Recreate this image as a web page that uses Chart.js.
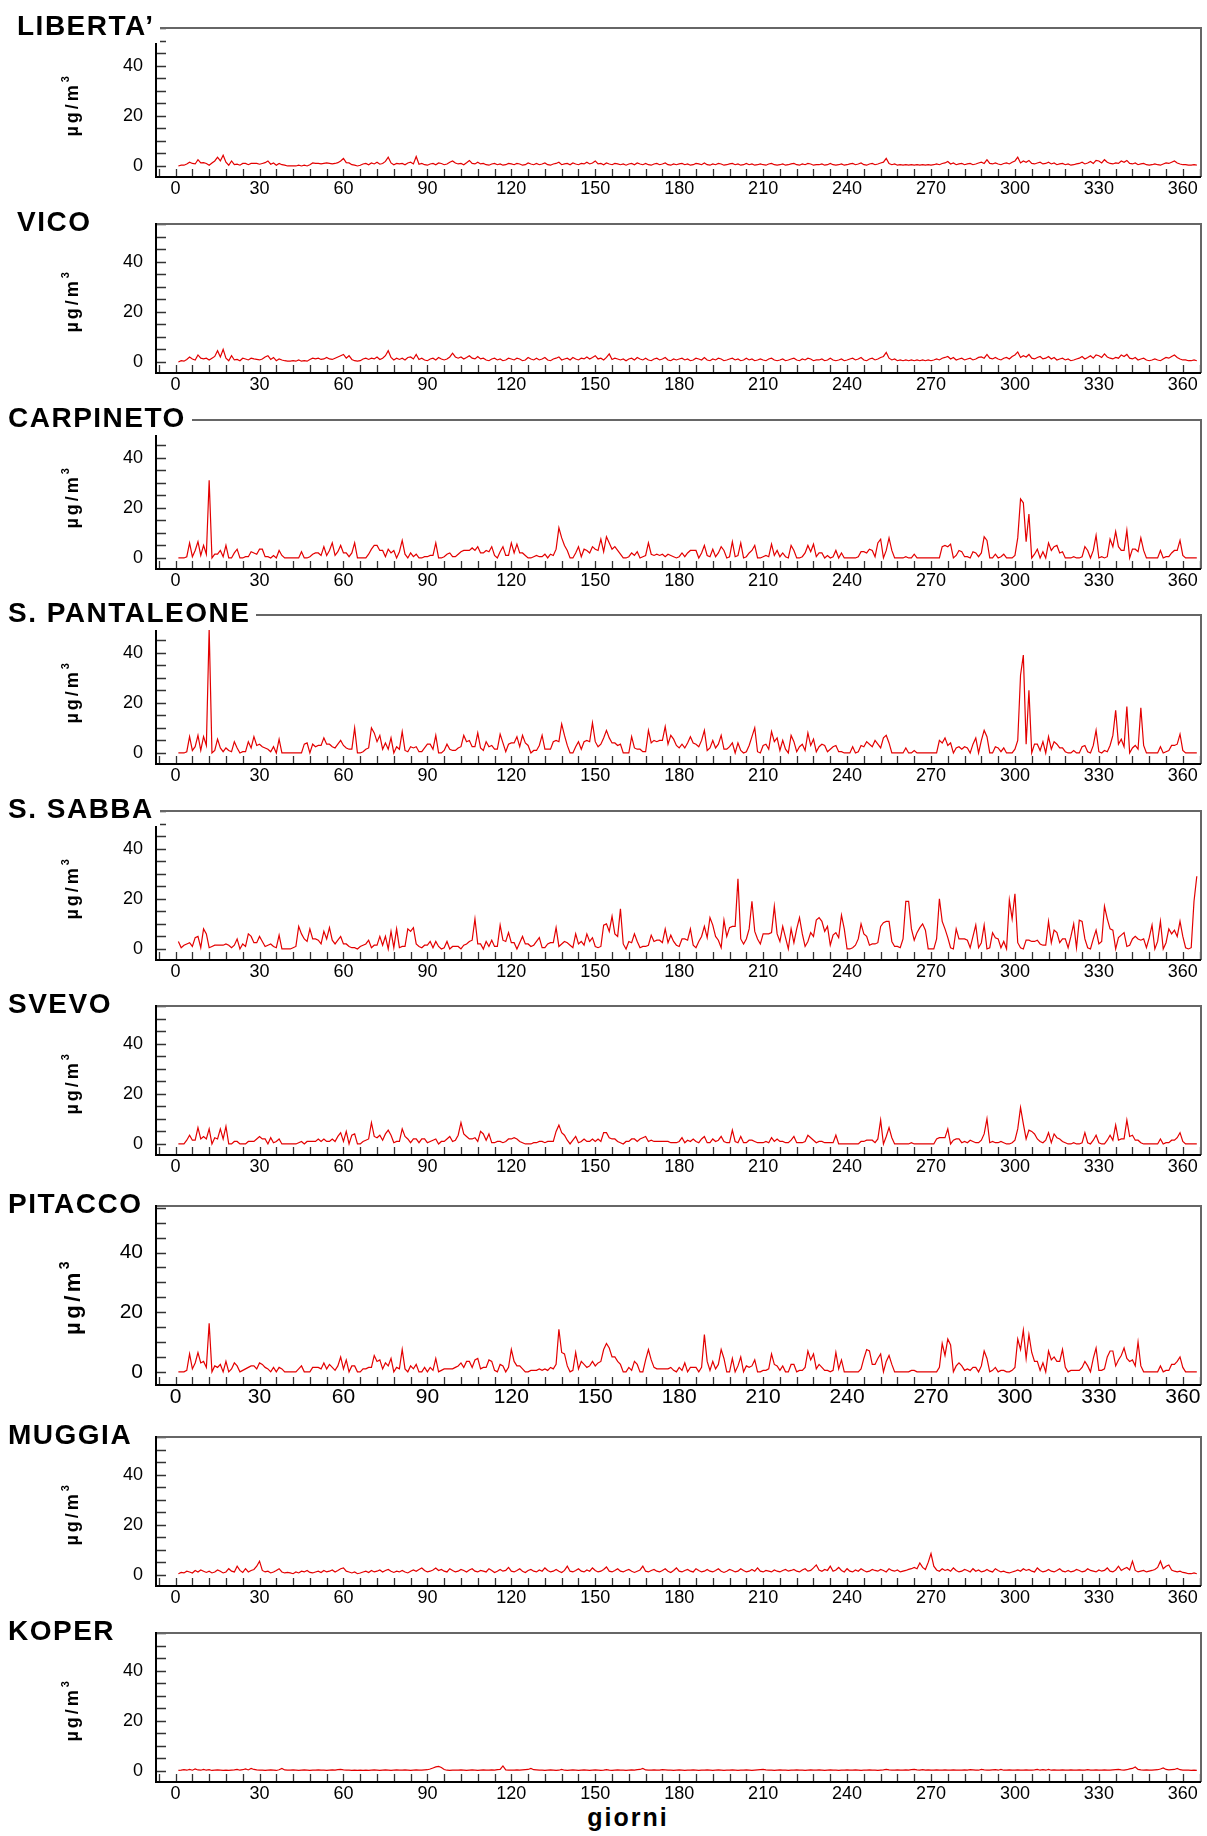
<!DOCTYPE html>
<html>
<head>
<meta charset="utf-8">
<script src="https://cdn.jsdelivr.net/npm/chart.js@4.4.1/dist/chart.umd.min.js"></script>
<style>
  body { margin: 0; background: #fff; }
  #page { position: relative; width: 1207px; height: 1836px; overflow: hidden; background: #fff;
          font-family: "Liberation Sans", Arial, sans-serif; }
  .title { position: absolute; font-weight: bold; font-size: 28px; line-height: 28px; letter-spacing: 1.5px;
           background: #fff; padding: 0 6px 3px 0; z-index: 2; white-space: nowrap; color: #000; }
  canvas { position: absolute; left: 0; }
  #xlabel { position: absolute; left: 528px; width: 200px; top: 1805px; text-align: center;
            font-weight: bold; font-size: 25px; line-height: 25px; letter-spacing: 2px; color: #000; }
</style>
</head>
<body>
<div id="page"><div id="xlabel">giorni</div></div>
<script>
// tick labels
const xTickLabels = [0, 30, 60, 90, 120, 150, 180, 210, 240, 270, 300, 330, 360]
const yTickLabels = [0, 20, 40]

// daily concentrations, day 1..365 (µg/m3)
const liberta = [
  0,0.3,0.3,0.8,1.5,1,0.8,2.5,1.2,1.3, 1,0.3,1.2,2,3.5,2,4.3,1.5,0.3,2,
  0.5,0.7,0.3,1,1,0.5,1,1,1,0.7, 1,1.3,2,0.7,1.2,0.3,1,0.5,0.3,0,
  0,0,0,0.3,0,0.3,0,0.5,1.2,1, 1,0.8,1,1.2,1,0.8,1,1.3,2,3,
  1.3,1.2,0.5,0.3,0,0.3,0.8,1,0.5,1.2, 0.8,1.5,0.7,1,1.8,3.5,1.2,0.5,1,0.8,
  1,0.5,1.2,1.5,0.8,3.8,0.7,1,0.5,0.3, 0.8,1,0.5,1.2,1,0.5,0.8,1.5,2,1.2,
  0.8,1,0.5,1.3,2.2,1,0.8,1.5,0.8,1, 0.5,0.3,0.8,1,0.5,0.8,0.3,0.5,1,0.8,
  0.5,1,0.8,0.3,0.5,1.2,0.8,0.5,1,0.5, 0.8,1.2,0.5,0.3,0.8,1,1.5,0.5,0.8,1,
  0.5,1.2,0.8,0.5,1,0.8,1.5,0.8,1.2,2, 0.8,1,0.5,1.2,0.8,0.5,1,0.8,0.5,0.8,
  0.3,0.8,1,0.5,1.2,0.8,0.5,1,0.5,0.3, 0.8,1,0.5,0.8,1.2,0.5,0.3,0.8,0.5,0.8,
  1,0.5,0.8,0.3,0.5,1,0.8,0.5,1.2,0.5, 0.3,0.8,0.5,1,0.8,0.3,0.5,0.8,1,0.5,
  0.8,0.3,0.5,1,0.5,0.8,0.3,0.5,0.8,0.5, 0.3,0.8,1,0.5,0.3,0.5,0.8,0.3,0.5,0.8,
  1,0.5,0.3,0.8,0.5,1,0.8,0.3,0.5,0.5, 0.8,0.3,0.5,1,0.5,0.3,0.5,0.8,0.3,0.5,
  0.8,1,0.5,0.8,1.2,0.5,0.3,0.8,1,0.5, 0.8,1.2,1.5,3,1,0.5,0.8,0.3,0.5,0.3,
  0.5,0.3,0.5,0.3,0.5,0.3,0.5,0.3,0.5,0.3, 0.5,0.8,0.5,1,1.2,1.8,0.8,1.2,0.5,0.8,
  1,0.5,0.8,1,0.5,0.8,1.2,1.5,1,2.5, 1,0.8,1.2,0.8,0.5,1,1.2,0.8,1.5,2,
  3.5,1.2,2,1.5,2.2,1,0.8,1.2,1.5,0.8, 1,1.5,0.8,1.2,0.5,0.8,1,0.5,0.8,0.3,
  0.5,0.8,1,1.5,0.8,1.2,1.8,1,2.2,2, 1.2,2.5,1.5,1,0.8,1.2,1,2,1.5,2.2,
  1,0.8,1.2,0.5,0.8,1,0.5,0.3,0.5,0.8, 0.5,0.3,0.8,1.2,1,1.5,2,1.2,0.8,0.5,
  0.5,0.3,0.3,0.5,0.3
]

const vico = [
  0,0.5,0.3,1,2,1.2,0.8,2.8,1.5,1.2, 1.5,0.8,1.5,2.2,4.5,2,5,1.5,0.5,2.5,
  0.8,1,0.5,1.5,1.2,0.8,1.5,1.2,1,0.8, 1.2,2,2.5,1,1.8,0.5,1.2,0.8,0.5,0.3,
  0.3,0.5,0.3,0.8,0.3,0.5,0.3,1,1.5,1.2, 1.5,1,1.2,1.8,1.2,1,1.5,2,2.5,3,
  1.5,2.5,1,0.5,0.3,0.5,1.2,1.5,1,1.5, 1.2,2,1,1.5,2.5,4.5,1.8,0.8,1.5,1,
  1.5,0.8,1.8,2,1.2,3,1,1.5,0.8,0.5, 1.2,1.5,0.8,1.8,1.2,0.8,1.2,2,3.5,2,
  1.5,2,1.2,1.8,2.5,1.5,1.2,2.2,1.2,1.5, 0.8,0.5,1.2,1.5,0.8,1.2,0.5,0.8,1.5,1.2,
  0.8,1.5,1.2,0.5,0.8,1.8,1.2,0.8,1.5,0.8, 1.2,1.8,0.8,0.5,1.2,1.5,2,0.8,1.2,1.5,
  0.8,1.8,1.2,0.8,1.5,1.2,2,1.2,1.8,2.5, 1.2,1.5,0.8,1.8,3.2,1,1.5,1.2,0.8,1.2,
  0.5,1.2,1.5,0.8,1.8,1.2,0.8,1.5,0.8,0.5, 1.2,1.5,0.8,1.2,1.8,0.8,0.5,1.2,0.8,1.2,
  1.5,0.8,1.2,0.5,0.8,1.5,1.2,0.8,1.8,0.8, 0.5,1.2,0.8,1.5,1.2,0.5,0.8,1.2,1.5,0.8,
  1.2,0.5,0.8,1.5,0.8,1.2,0.5,0.8,1.2,0.8, 0.5,1.2,1.5,0.8,0.5,0.8,1.2,0.5,0.8,1.2,
  1.5,0.8,0.5,1.2,0.8,1.5,1.2,0.5,0.8,0.8, 1.2,0.5,0.8,1.5,0.8,0.5,0.8,1.2,0.5,0.8,
  1.2,1.5,0.8,1.2,1.8,0.8,0.5,1.2,1.5,0.8, 1.2,1.8,2.2,3.8,1.5,0.8,1.2,0.5,0.8,0.5,
  0.8,0.5,0.8,0.5,0.8,0.5,0.8,0.5,0.8,0.5, 0.8,1.2,0.8,1.5,1.8,2.2,1.2,1.8,0.8,1.2,
  1.5,0.8,1.2,1.5,0.8,1.2,1.8,2,1.5,3, 1.5,1.2,1.8,1.2,0.8,1.5,1.8,1.2,2.2,2.8,
  4,1.8,2.5,2,3,1.5,1.2,1.8,2.2,1.2, 1.5,2.2,1.2,1.8,0.8,1.2,1.5,0.8,1.2,0.5,
  0.8,1.2,1.5,2.2,1.2,1.8,2.5,1.5,2.8,2.5, 1.8,3.2,2,1.5,1.2,1.8,1.5,2.8,2.2,3,
  1.5,1.2,1.8,0.8,1.2,1.5,0.8,0.5,0.8,1.2, 0.8,0.5,1.2,1.8,1.5,2.2,2.8,1.8,1.2,0.8,
  0.8,0.5,0.5,0.8,0.5
]

const carpineto = [
  0,0,0,0.5,6,0.5,3,6.5,1,5, 1.5,31,0,1.5,1.5,3,0.5,5,0,0,
  2,3.5,0,0,0.5,0.5,2.5,2,1.5,3.5, 3.5,0.5,0.5,0,1,0,3,1,0,0,
  0,0,0,0,2.5,0,0,0.5,1.5,2, 2,1,4.5,1,3,6,1,2.5,5,2,
  2,0.5,2,6,0,0,0,0,1.5,3.5, 5,5,3,3,0.5,3.5,2,3,0,2.5,
  7,1.5,0,2,0.5,1.5,0,0,0.5,0.5, 1,1,6,0,0,0.5,1.5,2,0.5,0.5,
  1.5,2.5,3,3,3,4,3,4.5,2,2, 3,2.5,4.5,1,0,2.5,4.5,1,1,6,
  2,5.5,2,2,1,0,0,0.5,1,0.5, 0.5,1.5,0,1.5,1,3.5,12,8,5,3,
  0,0,2,4.5,0.5,3.5,3,2,4.5,3.5, 3,7.5,2.5,8.5,6,3.5,4.5,3,1.5,0,
  0,0.5,2,1,2.5,0,0.5,1,6,1.5, 1,1.5,1,1.5,0.5,1.5,1,0.5,0,
  0.5,2,0.5,2,3,3,3,0,2,5, 1,0.5,3.5,0.5,2,4.5,3,0,0.5,6.5,
  0.5,1,6,0,0.5,2,3,5,0,0, 0.5,1,0.5,5.5,1,3,0.5,2,0.5,0,
  5,3,0,0,0.5,2,5,2.5,5.5,0.5, 2,2,0,1,0,0.5,3,0,2,0,
  0,0,0,0,0.5,2.5,2.5,2,3.5,3, 0.5,6,7.5,0,3,8,3,0,0,0,
  0,0.5,0,0,1.5,0,0,0,0,0, 0,0,0,0,4.5,5,4.5,5.5,0,1,
  3,2.5,0.5,0.5,0,2.5,2,0.5,2,8.5, 7,0,0,1.5,0,0.5,1.5,0,0,0,
  1,8,23.5,22,6.5,17.5,0,1.5,3.5,0, 2.5,0,6,3,4.5,5,2,2.5,0,0,
  0,0.5,0,0,0.5,4.5,3,0,3,9, 0,0.5,0,0.5,7.5,4.5,10.5,4.5,3,3,
  11,0,3.5,3.5,2.5,8,3,0,0,0, 0,0,3,0,0.5,0.5,2,3,3,7,
  1,0,0,0,0,0
]

const sPantaleone = [
  0,0,0,0.5,6.5,1,2.5,7,1,6.5, 3,49.5,0,1,5.5,2,0.5,2,1,0.5,
  4.5,2,0,0.5,0.5,4.5,2,6.5,3,3.5, 2.5,2,1.5,0.5,2.5,0,5.5,0,0,0,
  0,0,0,0,0,3.5,4,0,3.5,2.5, 3,3,6,3.5,3.5,2.5,2,3.5,5,3,
  2,1.5,1.5,10,0,0,0.5,1.5,2,10, 8,4.5,7,1.5,4,1.5,6,0,2.5,1.5,
  8.5,1,0.5,2.5,2,2.5,0.5,0.5,2,3.5, 3.5,1.5,7,0,0,1,3.5,1.5,1,1,
  2,2.5,7,4.5,5,2.5,2.5,8,2,1, 4.5,2.5,3,1.5,1.5,7.5,4,0.5,3.5,4,
  4,6.5,2.5,7,4,3,0,1,1,3, 7,1.5,1.5,1.5,4.5,5,4.5,11.5,7,3,
  0,0,2.5,4.5,1.5,4.5,5,4.5,12,4.5, 2.5,3.5,6,9,6,4,4,3,3.5,0,
  0,0,6.5,2,1.5,1.5,0.5,0.5,9,4, 5,4.5,5,5,10.5,3.5,7,5.5,3,
  2,3.5,2,4,6.5,4,3.5,2.5,5,9, 1,2,5,2,3.5,7,1.5,1.5,2.5,4,
  0,4,1,0,0.5,3,6.5,10,0.5,0, 3,3.5,1.5,8.5,4.5,6,1,5,1.5,0,
  7,4.5,0.5,2.5,3.5,1,8,3,5.5,0.5, 2.5,3.5,3,0.5,1.5,2.5,3,0.5,0.5,0,
  0,0,2.5,0,0.5,3,2.5,4.5,3.5,2.5, 5,3.5,2,6,7,4,0,0,0,0,
  0,2,0,0,1,0,0,0,0,0, 0,0,0,5,4,6,3,4,0,2,
  2.5,1.5,2.5,2,0,3.5,6,0,5,9, 6.5,0,0,2.5,2,0.5,2,0,0,0,
  1.5,5,31,39,3.5,25,0,3.5,3.5,1, 4.5,0,6.5,1.5,4.5,3.5,2,2,0.5,0,
  0,1,0,0,2.5,3,0.5,0,3,9, 0.5,0,1,0.5,3,7,17,3.5,5.5,2.5,
  18.5,0,2,3,1.5,18,3,0,0,0, 0,0,2.5,0,0.5,1,3,3,3.5,7.5,
  1,0,0,0,0,0
]

const sSabba = [
  3,0.5,1.5,2,2.5,1,4.5,5,0.5,8, 6,0.5,1,1.5,1.5,1.5,1.5,2,1.5,0.5,
  1.5,4,0,2,1,6,5,2.5,2.5,5, 3,1,1.5,2,1,0.5,5.5,0,0,0,
  0,0.5,1,9,6,4,3,8,4,4, 3.5,2,7,4,8.5,3.5,2,3.5,5,2,
  2,1,0.5,0.5,0,1,1.5,2,3.5,0.5, 1.5,1.5,5,1.5,5,0,7,0.5,8,0.5,
  1,1,8,7,8.5,2,1,0.5,1.5,1.5, 3,0.5,3,1,0,0.5,3,0,1,1,
  1,0,1.5,2,3,3.5,12,2,2,0, 3,1,3.5,1,1,9.5,3.5,3,6.5,2.5,
  2.5,0,2.5,5,2,2,1,1.5,3,4.5, 0.5,0.5,2,2.5,2.5,8.5,1,2,3,2.5,
  1.5,0.5,6,2,3,1.5,6,3,4.5,1, 0.5,1,9.5,10,7,13,6,5,16,2,
  0,3,2.5,6,3,0.5,1,1,1.5,5.5, 3,3.5,3.5,2.5,8,2.5,5.5,3,1.5,
  1,4,4,3.5,8,1.5,0.5,3,5,9, 4.5,12.5,9.5,5,3.5,0.5,11.5,5,8.5,9,
  9,28,4,2,4,8,19,7,4,2, 6,6,6,6.5,17,6,3,9,4.5,0,
  8,2.5,8,12.5,6,1,3,6.5,5,11.5, 12.5,11,7,9,1.5,5.5,6.5,4.5,13.5,8,
  0,0,0.5,1.5,4,10,6,5,1.5,2, 2,2.5,9,10.5,11,11,3,1,1,0.5,
  4,19,19,8,3.5,6.5,8.5,10,7.5,0, 0,0,4,20,11,8,4.5,0.5,0,8,
  4,4,4,3.5,0.5,5,9.5,0.5,2.5,9.5, 0,0.5,6.5,4.5,4,0.5,3,0,19.5,12,
  22,2.5,0.5,0,3.5,3.5,3,3,3.5,2, 1.5,1.5,11,2.5,7.5,6.5,2.5,4,4,0.5,
  5,10,0.5,11.5,11,4,0.5,0,4,7.5, 2,3,17,12,8,7.5,0,4.5,5.5,6.5,
  1,1.5,4,5,4,3.5,4,0.5,4.5,9.5, 0,3,11,0,2.5,8,6,7.5,5,11,
  5,0.5,0,0.5,19,29
]

const svevo = [
  0,0,0,1.5,3.5,1.5,1.5,6.5,2,3, 2,6,0,2.5,2,6,2,7,0,0,
  1,1,0,0,0,1,1,1,2,3, 2,2,0,2.5,0.5,1,2,0,0,0,
  0,0,0,0.5,1,0,1,1,1,1, 2,1,2,1,1,2,1,3,4.5,1,
  5,0,3.5,4,0,0,1,1.5,2,8.5, 3,2.5,3.5,1.5,4,5.5,3.5,0.5,1,1,
  6,3,2,0.5,2,2,0.5,2,2,0.5, 1,1.5,2,0,1,1,2,3,1,1.5,
  3.5,8.5,4,3,2,2,2.5,1,5,4, 1.5,4,0.5,0.5,1,1,0.5,1,2,2,
  2.5,2,1,0.5,0,0,0,0.5,0.5,1, 1,0.5,1,1,1,5,7.5,4.5,3.5,1.5,
  0,1.5,3,0.5,1,2,1,1,2,1, 2,1,4.5,4.5,2.5,2,2,1,0.5,0,
  1,1,2,2,1,2,2.5,3,1,1.5, 1,1,1,1,1,1,0.5,0.5,0.5,
  1,2.5,0.5,1.5,1,2,1,0.5,2,3, 0.5,0.5,2,1,1.5,3,1,0.5,0.5,5.5,
  1,0.5,3,0.5,0.5,1.5,1.5,1,0.5,0.5, 0.5,1,0.5,2.5,1,2,1,1,0.5,0.5,
  1.5,3,0.5,0.5,0.5,1,3.5,2.5,1.5,0.5, 1,1,0.5,0.5,0.5,0.5,3.5,0,0,0,
  0,0,0,0,0,1,1,1.5,1.5,1.5, 0.5,2,9.5,0,3,6.5,2.5,0,0,0,
  0,0,0,0.5,0,0,0,0,0,0, 0,0,2,2.5,2.5,2.5,6,0,1.5,2,
  2,0.5,1,0.5,1.5,1,0.5,0.5,1.5,4, 10,0.5,1,0.5,0.5,1,0.5,0,0,0.5,
  1.5,6,14.5,8,2,5.5,5,4,2,1, 0.5,1.5,4.5,0.5,4,2.5,2,1,0.5,0,
  0,0.5,0,0,0.5,4.5,0.5,0,1.5,3.5, 0.5,0,0,1.5,3.5,1.5,7.5,1.5,2,2,
  9.5,3,3.5,1.5,1.5,0.5,0,0,0,0, 0,0,2,0,0.5,0.5,1.5,1.5,2.5,4.5,
  1,0,0,0,0,0
]

const pitacco = [
  0,0,0,0.5,6,1,3,6.5,3,3.5, 1.5,16.3,0,2,1.5,2.5,0,3.5,0,1,
  3,2,0,0.5,1,1.5,2,2,1,3, 2.5,1.5,1,0,1.5,0,1.5,1,0,0,
  0,0,0,1,2,0,0,0,1.5,1.5, 1.5,1,3,1,2.5,1.5,0.5,2,5,1,
  4,0,2,2,0,0,1,1,1.5,1.5, 5.5,3.5,4,1,3,2,4.5,0,1.5,1,
  7.5,1,0,2,1,2.5,0,0,1.5,0, 1.5,0.5,4.5,0,0.5,1,1,1,1,1.5,
  2,3,1.5,3.5,3.5,1.5,4,4.5,1,1.5, 1.5,4,3.5,0.5,0,2.5,2,0,1.5,7.5,
  3.5,2,2,1,0,0,0.5,0.5,0.5,1, 0.5,1,0.5,1.5,1,2.5,14.3,6.5,6,2,
  0,0.5,6.5,1,3.5,2.5,1.5,2,3.5,2, 3,3.5,7.5,9.5,8,5,5,3.5,2.5,0,
  0,1.5,0.5,3.5,2.5,0,0,4,7.5,4, 1.5,1,1,1,1,1,1.5,0.5,0,
  1.5,0.5,3,0,1.5,1.5,1.5,0,1.5,12.5, 3.5,0.5,3.5,1,2.5,7.5,4.5,0,0,4.5,
  0,2,5,0,2,1.5,2,4,0,0, 0.5,0.5,1,6,2.5,2,0.5,2,0,0,
  2.5,2.5,0,0.5,0.5,1.5,7,4,6,1, 2.5,1.5,0.5,0.5,0,0.5,6.5,1,4,0,
  0,0,0,0,0,1,4.5,7.5,7,2.5, 2.5,4.5,6,0,3.5,5.5,2.5,0,0,0,
  0,0,0,0.5,0.5,0,0,0,0,0, 0,0,0,1.5,9.5,5.5,11,9,0,2,
  3,2,0.5,1,0.5,1.5,1.5,0,2,7, 4.5,0,0.5,1.5,0,0.5,0.5,0,0,0.5,
  1.5,11,7.5,14,4.5,12.5,6.5,3.5,3.5,0.5, 3,0,7,4,5,3.5,3.5,7.5,1.5,0,
  0.5,0.5,0.5,0.5,1.5,3.5,2,0,4.5,8, 0.5,0.5,1,5,7,7,2,4,5.5,8,
  4.5,3.5,4,2,10,2,0,0,0,0, 0,0,2,0,0.5,0.5,2.5,2.5,3.5,5,
  1.5,0,0,0,0,0
]

const muggia = [
  0.5,1,0.8,1.5,1.2,0.8,1.8,1.2,2,1.5, 1,1.5,0.8,1.2,2,1.5,0.8,1.2,2.5,1.5,
  1.2,3.5,1.8,1,2.5,1.2,1.8,2.2,3.5,5.5, 1.8,1.2,1.5,0.8,1.2,1.8,2.5,1.2,0.8,1,
  0.8,0.5,1.2,0.8,1.5,1.2,1.8,1,0.8,1.2, 1.5,1,1.8,1.2,1.5,2,1.2,1.8,2.5,2.8,
  1.5,1.2,0.8,1.2,0.5,0.8,1.2,1.5,1,1.8, 1.2,1.5,2,1.2,1.8,2.2,1.5,1,1.5,1.2,
  1.8,1.2,0.8,1.5,2,1.5,2.2,2.8,1.8,1.2, 1.5,2,2.8,1.8,2.2,1.5,1.2,2.5,1.8,1.2,
  1.5,2.2,1.8,1.2,2,2.5,1.5,1.2,1.8,1.5, 1.2,2.5,1.8,1,1.5,2.2,1.5,1.8,3,1.5,
  1.2,1.8,2.5,1.5,1,1.8,2.2,1.5,1.2,2, 1.5,2.8,1.8,1.2,1.5,2.2,1.5,1,1.8,3.5,
  1.5,1.2,1.8,2.5,1.5,1.2,2,1.5,2.8,1.8, 1.2,1.5,2.2,3.2,1.5,1.2,1.8,2.5,1.5,1.2,
  1.8,2.2,1.5,1,1.5,2,3.5,1.5,1.2,1.8, 2.2,1.5,1.2,1.8,2.5,1.5,1,1.8,2.8,1.5,
  1.2,1.8,2.2,1.5,1.2,2.5,1.8,1.2,1.5,2.2, 1.5,1.2,1.8,2.5,1.5,1,1.5,2.2,1.8,1.2,
  1.5,2.5,1.8,1.2,1.5,2.2,1.5,2.8,1.5,1.2, 1.8,1.5,1.2,2,1.5,1.2,1.8,2.2,1.5,1.8,
  2.2,1.5,1.2,2,2.5,1.5,1.8,2.8,4,2, 1.5,2.2,1.8,3.5,1.5,2,3,1.8,1.2,2.5,
  1.5,1.2,2,1.5,2.5,1.8,1.2,1.5,2.2,1.8, 1.5,2.2,1.8,1.2,2.5,1.8,1.5,2,1.2,1.5,
  1.8,2.2,2.5,3,2.5,4.8,3,2.2,5,8.5, 3.5,2,1.5,2.5,1.8,2.2,1.5,2.8,1.8,1.2,
  1.5,2.2,1.8,1.2,2.5,1.5,2,1.2,1.5,2.2, 1.5,1.2,2.5,1.8,1.2,1.5,1,0.8,1.2,1.5,
  2,1.5,2.5,1.8,2.2,1.5,1.2,2.8,1.8,1.2, 1.5,2.2,1.5,1.2,1.8,2.5,1.5,1.2,1.8,1.2,
  1.5,2.2,1.8,1.2,1.5,2.5,1.8,1.5,1.2,2, 1.5,1.8,2.8,1.5,1.2,2,3.5,1.8,2.5,3,
  2,5.5,1.8,1.2,1.5,1.8,1.2,1.5,1.8,2.2, 3,5.5,2.5,3.5,4,2,1.5,1.2,1.5,1,
  0.8,0.5,0.5,0.8,0.5
]

const koper = [
  0.2,0.3,0.5,0.3,0.6,0.3,0.8,0.4,0.3,0.6, 0.3,0.5,0.2,0.3,0.4,0.3,0.2,0.3,0.2,0.3,
  0.4,0.6,0.3,0.5,0.8,0.4,1,0.6,0.4,0.3, 0.3,0.2,0.3,0.4,0.3,0.2,0.5,1,0.4,0.3,
  0.3,0.4,0.3,0.2,0.3,0.4,0.3,0.2,0.3,0.3, 0.4,0.3,0.3,0.2,0.3,0.4,0.3,0.5,0.6,0.4,
  0.3,0.3,0.2,0.3,0.2,0.3,0.2,0.3,0.2,0.3, 0.4,0.3,0.2,0.3,0.4,0.3,0.2,0.3,0.4,0.3,
  0.3,0.4,0.3,0.2,0.3,0.4,0.3,0.3,0.4,0.5, 0.8,1.2,1.6,1.8,1.4,0.6,0.3,0.2,0.3,0.3,
  0.3,0.4,0.3,0.2,0.3,0.4,0.3,0.2,0.3,0.4, 0.3,0.3,0.4,0.3,0.5,0.6,2,0.4,0.3,0.3,
  0.3,0.4,0.3,0.4,0.5,0.6,1,0.5,0.4,0.3, 0.3,0.2,0.3,0.4,0.3,0.2,0.3,0.6,0.3,0.2,
  0.3,0.4,0.3,0.2,0.3,0.4,0.3,0.2,0.3,0.4, 0.3,0.2,0.3,0.5,0.3,0.2,0.3,0.4,0.3,0.3,
  0.2,0.3,0.4,0.3,0.5,0.6,1,0.4,0.3,0.3, 0.4,0.3,0.3,0.5,0.4,0.3,0.3,0.2,0.3,0.4,
  0.3,0.2,0.3,0.3,0.4,0.3,0.2,0.3,0.3,0.4, 0.3,0.2,0.3,0.4,0.3,0.2,0.3,0.3,0.4,0.3,
  0.2,0.3,0.3,0.4,0.3,0.2,0.3,0.4,0.5,0.6, 0.4,0.3,0.3,0.2,0.3,0.4,0.3,0.3,0.2,0.3,
  0.3,0.4,0.3,0.3,0.2,0.3,0.4,0.3,0.3,0.4, 0.3,0.2,0.3,0.4,0.3,0.3,0.2,0.3,0.3,0.4,
  0.3,0.3,0.4,0.3,0.2,0.3,0.3,0.4,0.3,0.3, 0.2,0.3,0.4,0.6,0.4,0.3,0.3,0.4,0.3,0.3,
  0.4,0.3,0.5,0.6,0.4,0.3,0.5,0.3,0.4,0.3, 0.3,0.4,0.3,0.3,0.4,0.3,0.3,0.4,0.3,0.3,
  0.3,0.4,0.3,0.5,0.4,0.3,0.3,0.6,0.4,0.3, 0.3,0.4,0.5,0.3,0.6,0.3,0.3,0.4,0.3,0.3,
  0.4,0.3,0.3,0.4,0.3,0.3,0.4,0.6,0.3,0.5, 0.3,0.6,0.3,0.4,0.3,0.3,0.4,0.3,0.3,0.4,
  0.3,0.3,0.4,0.3,0.3,0.5,0.3,0.3,0.4,0.3, 0.3,0.4,0.3,0.3,0.4,0.5,0.6,0.4,0.3,0.5,
  0.8,1,1.6,0.6,0.4,0.3,0.4,0.3,0.3,0.4, 0.5,0.8,1.2,0.6,0.4,0.5,0.6,1,0.5,0.3,
  0.3,0.3,0.2,0.3,0.2
]

const FONT = '"Liberation Sans", Arial, sans-serif'

// one panel per station: top = pixel row of the frame's upper edge
const panels = [
  { name: 'LIBERTA’', values: liberta, top: 28, titleX: 17 },
  { name: 'VICO', values: vico, top: 224, titleX: 17 },
  { name: 'CARPINETO', values: carpineto, top: 420, titleX: 8 },
  { name: 'S. PANTALEONE', values: sPantaleone, top: 615, titleX: 8 },
  { name: 'S. SABBA', values: sSabba, top: 811, titleX: 8 },
  { name: 'SVEVO', values: svevo, top: 1006, titleX: 8 },
  { name: 'PITACCO', values: pitacco, top: 1206, titleX: 8, big: true },
  { name: 'MUGGIA', values: muggia, top: 1437, titleX: 8 },
  { name: 'KOPER', values: koper, top: 1633, titleX: 8 }
]

// frame, inner ticks and the unit label
const framePlugin = {
    id: 'frame',
    afterDatasetsDraw(chart, args, opts) {
        const { ctx, chartArea: a, scales: { x, y } } = chart
        ctx.save()
        ctx.strokeStyle = '#333'
        ctx.lineWidth = 1.3
        ctx.beginPath()
        for (let v = -6; v <= x.max; v += 6) {
            const px = Math.round(x.getPixelForValue(v)) + 0.5
            ctx.moveTo(px, a.bottom)
            ctx.lineTo(px, a.bottom - 8)
        }
        for (let v = 0; v <= y.max; v += 5) {
            const py = Math.round(y.getPixelForValue(v)) + 0.5
            ctx.moveTo(a.left, py)
            ctx.lineTo(a.left + 10, py)
        }
        ctx.stroke()

        // top and right edges (grey)
        ctx.strokeStyle = '#666'
        ctx.lineWidth = 2
        ctx.beginPath()
        ctx.moveTo(a.left, a.top)
        ctx.lineTo(a.right, a.top)
        ctx.lineTo(a.right, a.bottom)
        ctx.stroke()

        // axes (black)
        ctx.strokeStyle = '#000'
        ctx.beginPath()
        ctx.moveTo(a.left, a.top - 1)
        ctx.lineTo(a.left, a.bottom)
        ctx.lineTo(a.right, a.bottom)
        ctx.stroke()

        // µg/m3 label
        const cy = y.getPixelForValue(opts.unitAt)
        ctx.translate(opts.unitX, cy)
        ctx.rotate(-Math.PI / 2)
        ctx.fillStyle = '#000'
        ctx.letterSpacing = opts.spacing + 'px'
        ctx.font = `bold ${opts.size}px ${FONT}`
        const wMain = ctx.measureText('µg/m').width
        ctx.font = `bold ${Math.round(opts.size * 0.62)}px ${FONT}`
        const wSup = ctx.measureText('3').width
        const x0 = -(wMain + wSup) / 2
        ctx.textAlign = 'left'
        ctx.textBaseline = 'alphabetic'
        ctx.font = `bold ${opts.size}px ${FONT}`
        ctx.fillText('µg/m', x0, 0)
        ctx.font = `bold ${Math.round(opts.size * 0.62)}px ${FONT}`
        ctx.fillText('3', x0 + wMain, -opts.size * 0.5)
        ctx.restore()
    }
}

const page = document.getElementById('page')

panels.forEach(p => {
    const height = p.big ? 179 : 149
    const yMax = p.big ? 55.6 : 55
    const tickSize = p.big ? 21 : 18
    const padTop = 30
    const axisH = 30

    const canvas = document.createElement('canvas')
    canvas.width = 1207
    canvas.height = padTop + height + axisH
    canvas.style.top = (p.top - padTop) + 'px'
    canvas.style.width = '1207px'
    canvas.style.height = canvas.height + 'px'
    page.appendChild(canvas)

    const title = document.createElement('div')
    title.className = 'title'
    title.textContent = p.name
    title.style.left = p.titleX + 'px'
    title.style.top = (p.top - 16.3) + 'px'
    page.appendChild(title)

    new Chart(canvas.getContext('2d'), {
        type: 'line',
        data: {
            datasets: [{
                data: p.values.map((v, i) => ({ x: i + 1, y: v })),
                borderColor: '#e30000',
                borderWidth: 1.2,
                pointRadius: 0,
                tension: 0,
                fill: false
            }]
        },
        options: {
            responsive: false,
            animation: false,
            events: [],
            layout: { padding: { top: padTop, right: 6, left: 0, bottom: 0 } },
            plugins: {
                legend: { display: false },
                tooltip: { enabled: false },
                frame: {
                    unitX: p.big ? 80 : 78,
                    unitAt: p.big ? 25.3 : 24.4,
                    size: p.big ? 22 : 18,
                    spacing: p.big ? 3.5 : 3
                }
            },
            scales: {
                x: {
                    type: 'linear',
                    min: -7,
                    max: 366.5,
                    grid: { display: false, drawTicks: false },
                    border: { display: false },
                    afterBuildTicks: s => { s.ticks = xTickLabels.map(v => ({ value: v })) },
                    afterFit: s => { s.height = axisH },
                    ticks: {
                        autoSkip: false,
                        maxRotation: 0,
                        padding: p.big ? 0 : 1,
                        color: '#000',
                        font: { family: FONT, size: tickSize }
                    }
                },
                y: {
                    min: -4.4,
                    max: yMax,
                    grid: { display: false, drawTicks: false },
                    border: { display: false },
                    afterBuildTicks: s => { s.ticks = yTickLabels.map(v => ({ value: v })) },
                    afterFit: s => { s.width = 156 },
                    ticks: {
                        padding: 13,
                        color: '#000',
                        font: { family: FONT, size: tickSize }
                    }
                }
            }
        },
        plugins: [framePlugin]
    })
})
</script>
</body>
</html>
